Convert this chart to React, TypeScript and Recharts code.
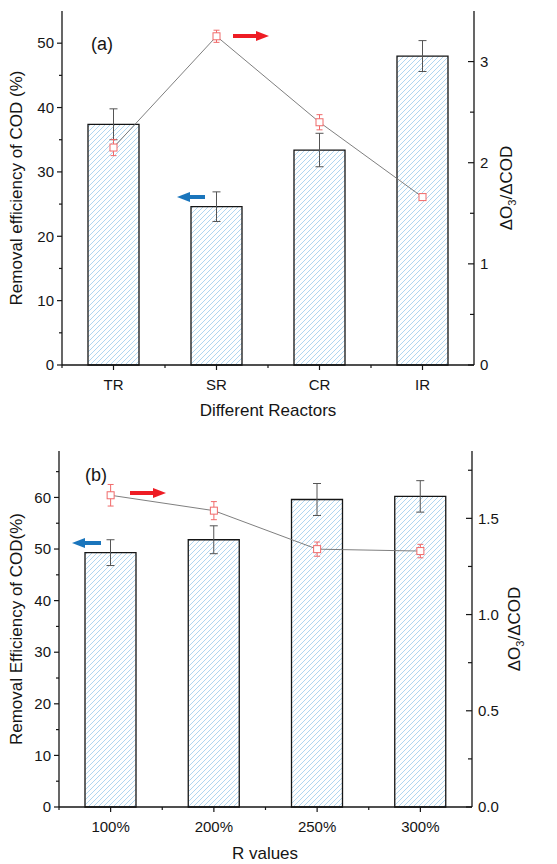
import React from "react";
import { ComposedChart, Bar, Line, XAxis, YAxis, ErrorBar } from "recharts";

// panel (a): different reactors
const reactors = ["TR", "SR", "CR", "IR"];
const removalA = [37.4, 24.6, 33.4, 48.0];
const removalErrA = [2.4, 2.3, 2.6, 2.4];
const ratioA = [2.15, 3.25, 2.4, 1.66];
const ratioErrA = [0.08, 0.06, 0.075, 0.03];

// panel (b): R values
const rValues = ["100%", "200%", "250%", "300%"];
const removalB = [49.3, 51.8, 59.6, 60.2];
const removalErrB = [2.5, 2.7, 3.1, 3.05];
const ratioB = [1.62, 1.54, 1.34, 1.33];
const ratioErrB = [0.056, 0.047, 0.037, 0.035];

const leftTicksA = [0, 5, 10, 15, 20, 25, 30, 35, 40, 45, 50];
const rightTicksA = [0, 0.5, 1, 1.5, 2, 2.5, 3];
const leftTicksB = [0, 5, 10, 15, 20, 25, 30, 35, 40, 45, 50, 55, 60, 65];
const rightTicksB = [0, 0.25, 0.5, 0.75, 1, 1.25, 1.5, 1.75];

const FONT = "'Liberation Sans', Arial, sans-serif";
const INK = "#151515";
const W = 557;

const build = (cats: string[], rem: number[], remErr: number[], rat: number[], ratErr: number[]) =>
  cats.map((c, i) => ({ cat: c, removal: rem[i], removalErr: remErr[i], ratio: rat[i], ratioErr: ratErr[i] }));

const isMajor = (v: number, step: number) => Math.abs(v / step - Math.round(v / step)) < 1e-6;

const LeftTick = ({ x, y, payload, step }: any) => {
  const major = isMajor(payload.value, step);
  return (
    <g>
      <line x1={x} y1={y} x2={x - (major ? 5 : 3)} y2={y} stroke={INK} strokeWidth={1.2} />
      {major && (
        <text x={x - 8} y={y} dy="0.35em" textAnchor="end" fontSize={15} fontFamily={FONT} fill={INK}>
          {payload.value}
        </text>
      )}
    </g>
  );
};

const RightTick = ({ x, y, payload, step, digits }: any) => {
  const major = isMajor(payload.value, step);
  return (
    <g>
      <line x1={x} y1={y} x2={x - (major ? 6 : 4)} y2={y} stroke={INK} strokeWidth={1.2} />
      {major && (
        <text x={x + 6} y={y} dy="0.35em" textAnchor="start" fontSize={15} fontFamily={FONT} fill={INK}>
          {Number(payload.value).toFixed(digits)}
        </text>
      )}
    </g>
  );
};

const BottomTick = ({ x, y, payload, band }: any) => (
  <g>
    <line x1={x} y1={y} x2={x} y2={y + 5} stroke={INK} strokeWidth={1.2} />
    <line x1={x - band / 2} y1={y} x2={x - band / 2} y2={y + 3} stroke={INK} strokeWidth={1.2} />
    <text x={x} y={y + 25} textAnchor="middle" fontSize={15} fontFamily={FONT} fill={INK}>
      {payload.value}
    </text>
  </g>
);

const SquareDot = ({ cx, cy }: any) =>
  cx == null || cy == null ? null : (
    <rect x={cx - 3.5} y={cy - 3.5} width={7} height={7} fill="#fff" stroke="#f06a6a" strokeWidth={1} />
  );

type PanelProps = {
  data: any[];
  height: number;
  top: number;
  leftW: number;
  rightW: number;
  xH: number;
  leftDomain: number[];
  rightDomain: number[];
  leftTicks: number[];
  rightTicks: number[];
  rightStep: number;
  rightDigits: number;
};

function Panel(p: PanelProps) {
  const band = (W - p.leftW - p.rightW) / p.data.length;
  return (
    <ComposedChart
      width={W}
      height={p.height}
      data={p.data}
      margin={{ top: p.top, right: 0, bottom: 0, left: 0 }}
    >
      <XAxis
        dataKey="cat"
        height={p.xH}
        tickSize={0}
        tickMargin={0}
        interval={0}
        axisLine={{ stroke: INK, strokeWidth: 1.3 }}
        tickLine={false}
        tick={(t: any) => <BottomTick {...t} band={band} />}
      />
      <XAxis
        xAxisId="top"
        dataKey="cat"
        orientation="top"
        height={0}
        tick={false}
        tickLine={false}
        axisLine={{ stroke: INK, strokeWidth: 1.3 }}
      />
      <YAxis
        yAxisId="left"
        width={p.leftW}
        domain={p.leftDomain}
        ticks={p.leftTicks}
        interval={0}
        tickSize={0}
        tickMargin={0}
        tickLine={false}
        axisLine={{ stroke: INK, strokeWidth: 1.3 }}
        tick={(t: any) => <LeftTick {...t} step={10} />}
      />
      <YAxis
        yAxisId="right"
        orientation="right"
        width={p.rightW}
        domain={p.rightDomain}
        ticks={p.rightTicks}
        interval={0}
        tickSize={0}
        tickMargin={0}
        tickLine={false}
        axisLine={{ stroke: INK, strokeWidth: 1.3 }}
        tick={(t: any) => <RightTick {...t} step={p.rightStep} digits={p.rightDigits} />}
      />
      <Bar
        yAxisId="left"
        dataKey="removal"
        barSize={51}
        fill="url(#hatch)"
        stroke={INK}
        strokeWidth={1.3}
        isAnimationActive={false}
      >
        <ErrorBar dataKey="removalErr" width={4} stroke="#555" strokeWidth={1} />
      </Bar>
      <Line
        yAxisId="right"
        dataKey="ratio"
        stroke="#707070"
        strokeWidth={0.9}
        dot={<SquareDot />}
        activeDot={false}
        isAnimationActive={false}
      >
        <ErrorBar dataKey="ratioErr" width={3} stroke="#f06a6a" strokeWidth={1} />
      </Line>
    </ComposedChart>
  );
}

const Arrow = ({ x1, x2, y, color }: { x1: number; x2: number; y: number; color: string }) => {
  // x1 = tail, x2 = tip
  const dir = Math.sign(x2 - x1);
  const hx = x2 - dir * 13;
  return (
    <g>
      <line x1={x1} y1={y} x2={hx} y2={y} stroke={color} strokeWidth={4} />
      <polygon points={`${x2},${y} ${hx},${y - 5} ${hx},${y + 5}`} fill={color} />
    </g>
  );
};

const RatioTitle = ({ x, y }: { x: number; y: number }) => (
  <text
    transform={`translate(${x},${y}) rotate(-90)`}
    textAnchor="middle"
    fontSize={17}
    fontFamily={FONT}
    fill={INK}
  >
    ΔO<tspan fontSize={11} dy={4}>3</tspan>
    <tspan dy={-4}>/ΔCOD</tspan>
  </text>
);

export default function App() {
  const dataA = build(reactors, removalA, removalErrA, ratioA, ratioErrA);
  const dataB = build(rValues, removalB, removalErrB, ratioB, ratioErrB);
  return (
    <div style={{ position: "absolute", left: 0, top: 0, width: W, height: 864, background: "#fff" }}>
      <svg width={0} height={0} style={{ position: "absolute" }}>
        <defs>
          <pattern id="hatch" patternUnits="userSpaceOnUse" width={5} height={5}>
            <rect width={5} height={5} fill="#fff" />
            <path d="M0,5 L5,0 M-1,1 L1,-1 M4,6 L6,4" stroke="#9ccbec" strokeWidth={0.8} />
          </pattern>
        </defs>
      </svg>
      <div style={{ position: "absolute", left: 0, top: 0 }}>
        <Panel
          data={dataA}
          height={430}
          top={11}
          leftW={62}
          rightW={83}
          xH={65}
          leftDomain={[0, 55]}
          rightDomain={[0, 3.5]}
          leftTicks={leftTicksA}
          rightTicks={rightTicksA}
          rightStep={1}
          rightDigits={0}
        />
      </div>
      <div style={{ position: "absolute", left: 0, top: 430 }}>
        <Panel
          data={dataB}
          height={434}
          top={21}
          leftW={59}
          rightW={85}
          xH={57}
          leftDomain={[0, 69]}
          rightDomain={[0, 1.85]}
          leftTicks={leftTicksB}
          rightTicks={rightTicksB}
          rightStep={0.5}
          rightDigits={1}
        />
      </div>
      <svg width={W} height={864} style={{ position: "absolute", left: 0, top: 0, pointerEvents: "none" }}>
        <text x={91} y={50} fontSize={18} fontFamily={FONT} fill={INK}>(a)</text>
        <Arrow x1={233} x2={269} y={36} color="#ee1c24" />
        <Arrow x1={205} x2={177} y={197} color="#1a75bc" />
        <text
          transform="translate(22,188) rotate(-90)"
          textAnchor="middle"
          fontSize={17}
          fontFamily={FONT}
          fill={INK}
        >
          Removal efficiency of COD (%)
        </text>
        <RatioTitle x={512} y={188} />
        <text x={268} y={416} textAnchor="middle" fontSize={17} fontFamily={FONT} fill={INK}>
          Different Reactors
        </text>

        <text x={85} y={481} fontSize={18} fontFamily={FONT} fill={INK}>(b)</text>
        <Arrow x1={130} x2={166} y={493} color="#ee1c24" />
        <Arrow x1={101} x2={72} y={543} color="#1a75bc" />
        <text
          transform="translate(22,629) rotate(-90)"
          textAnchor="middle"
          fontSize={17}
          fontFamily={FONT}
          fill={INK}
        >
          Removal Efficiency of COD(%)
        </text>
        <RatioTitle x={520} y={629} />
        <text x={265} y={859} textAnchor="middle" fontSize={17} fontFamily={FONT} fill={INK}>
          R values
        </text>
      </svg>
    </div>
  );
}
